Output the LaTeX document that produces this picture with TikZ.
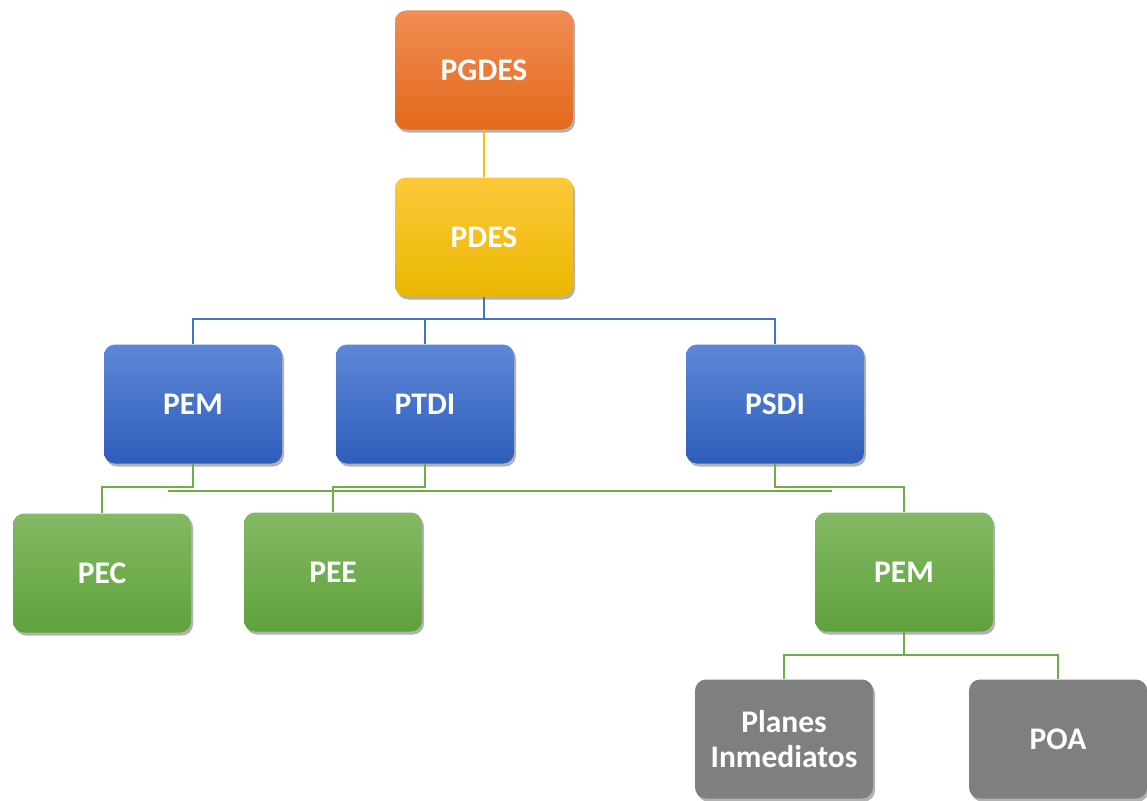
\documentclass[tikz,border=0pt]{standalone}
\usepackage{fontspec}
\setmainfont{Carlito}
\usetikzlibrary{shadows}
\definecolor{orT}{HTML}{F18D55}
\definecolor{orB}{HTML}{E3691A}
\definecolor{yeT}{HTML}{FFC83A}
\definecolor{yeB}{HTML}{E9B700}
\definecolor{blT}{HTML}{5D87D8}
\definecolor{blB}{HTML}{2E5DBA}
\definecolor{grT}{HTML}{83B964}
\definecolor{grB}{HTML}{5FA23B}
\definecolor{grayB}{HTML}{7F7F7F}
\definecolor{lnY}{HTML}{FFC000}
\definecolor{lnB}{HTML}{4472C4}
\definecolor{lnG}{HTML}{70AD47}
\begin{document}
\begin{tikzpicture}[x=1pt,y=-1pt,
  box/.style={rounded corners=11pt, minimum width=178pt, minimum height=119pt,
    text=white, font=\fontsize{31.5}{35}\selectfont\bfseries, align=center, inner sep=0pt,
    drop shadow={shadow xshift=2pt, shadow yshift=-3pt, opacity=0.3, fill=black}},
  orbox/.style={box, top color=orT, bottom color=orB},
  yebox/.style={box, top color=yeT, bottom color=yeB},
  blbox/.style={box, top color=blT, bottom color=blB},
  grbox/.style={box, top color=grT, bottom color=grB},
  gybox/.style={box, fill=grayB},
  lineY/.style={draw=lnY, line width=2.4pt},
  lineB/.style={draw=lnB, line width=2.4pt},
  lineG/.style={draw=lnG, line width=2.4pt}]
\useasboundingbox (0,0) rectangle (1147,800);
\fill[white] (0,0) rectangle (1147,800);
\coordinate (yB) at (0,319);
\coordinate (yG) at (0,487);
\coordinate (yG2) at (0,655);
\coordinate (s1) at (168,491);
\coordinate (s2) at (832,491);
% nodes
\node[orbox] (pgdes) at (484,70) {PGDES};
\node[yebox] (pdes) at (484,237) {PDES};
\node[blbox] (pem) at (193,404) {PEM};
\node[blbox] (ptdi) at (425,404) {PTDI};
\node[blbox] (psdi) at (775,404) {PSDI};
\node[grbox] (pec) at (102,573) {PEC};
\node[grbox] (pee) at (333,572) {PEE};
\node[grbox] (pem2) at (904,572) {PEM};
\node[gybox] (pi) at (784,739) {Planes\\Inmediatos};
\node[gybox] (poa) at (1058,739) {POA};
% connectors
\draw[lineY] (pgdes.south) -- (pdes.north);
\draw[lineB] (pdes.south) -- (pdes.south |- yB) -| (pem.north);
\draw[lineB] (pdes.south |- yB) -| (ptdi.north);
\draw[lineB] (pdes.south |- yB) -| (psdi.north);
\draw[lineG] (s1) -- (s2);
\draw[lineG] (pem.south) -- (pem.south |- yG) -| (pec.north);
\draw[lineG] (ptdi.south) -- (ptdi.south |- yG) -| (pee.north);
\draw[lineG] (psdi.south) -- (psdi.south |- yG) -| (pem2.north);
\draw[lineG] (pem2.south) -- (pem2.south |- yG2) -| (pi.north);
\draw[lineG] (pem2.south |- yG2) -| (poa.north);
\end{tikzpicture}
\end{document}
